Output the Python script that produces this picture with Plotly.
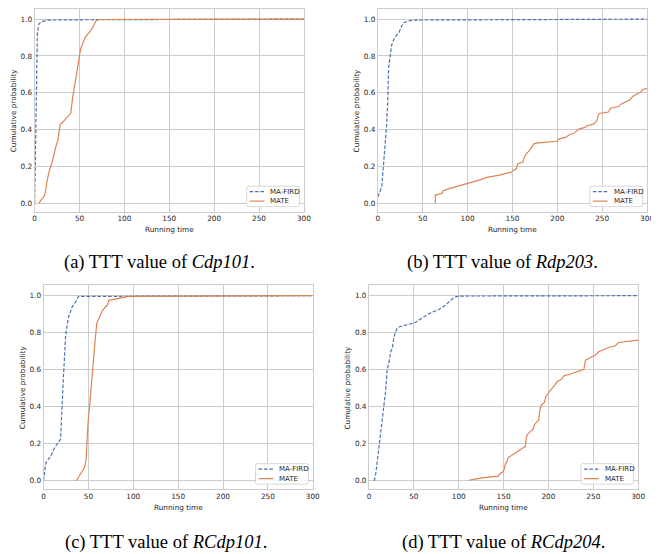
import plotly.graph_objects as go

# The page body has an 8px margin, so the figure is drawn 8px smaller and offset.
OFF = 8
W, H = 659 - OFF, 554 - OFF

# ---------------- data ----------------
series_names = ["MA-FIRD", "MATE"]
x_ticks = [0, 50, 100, 150, 200, 250, 300]
y_ticks = [0.0, 0.2, 0.4, 0.6, 0.8, 1.0]

a_mafird_x = [0, 0.5, 1, 1.5, 2, 2.5, 3, 4, 5, 7, 10, 15, 70, 300]
a_mafird_y = [0, 0.2, 0.45, 0.62, 0.75, 0.85, 0.92, 0.96, 0.975, 0.985, 0.99, 0.995, 0.997, 1.0]
a_mate_x = [4.8, 7.3, 10.3, 12.1, 13.6, 16.5, 19, 21.3, 23.8, 25.7, 27.5, 28.6, 31.2, 34.8, 38.5,
            40.3, 42.2, 44.7, 47, 48.4, 50.2, 51.3, 53.9, 56.8, 59.4, 63, 66, 68.2, 71.5, 300]
a_mate_y = [0, 0.02, 0.036, 0.063, 0.116, 0.18, 0.215, 0.27, 0.31, 0.34, 0.385, 0.43, 0.44, 0.46, 0.48,
            0.49, 0.57, 0.64, 0.70, 0.75, 0.80, 0.84, 0.87, 0.905, 0.92, 0.94, 0.968, 0.99, 0.998, 1.0]

b_mafird_x = [0, 2.6, 4.4, 5.5, 7, 8.4, 9.9, 11, 12, 13.5, 15.4, 18.3, 20.9, 23.8, 26.3, 28.9, 33.7, 41, 300]
b_mafird_y = [0.036, 0.063, 0.09, 0.16, 0.25, 0.36, 0.43, 0.556, 0.735, 0.79, 0.86, 0.896, 0.914, 0.93,
              0.96, 0.98, 0.99, 0.995, 1.0]
b_mate_x = [64, 64, 68.4, 72, 72.8, 79.4, 90.4, 101, 112, 117.8, 119.6, 134, 143.4, 149, 150.7, 154.4,
            156, 161.7, 163.6, 165.4, 169, 171, 173.8, 178.2, 200, 202, 209.3, 212.9, 218.4, 224, 231,
            233, 240.4, 244, 246, 247.7, 256.9, 259.4, 269, 270.8, 280.6, 284.3, 287.2, 293.4, 295.3, 300]
b_mate_y = [0, 0.045, 0.05, 0.057, 0.068, 0.08, 0.095, 0.108, 0.125, 0.134, 0.14, 0.152, 0.165, 0.17,
            0.179, 0.188, 0.215, 0.224, 0.256, 0.269, 0.287, 0.305, 0.323, 0.328, 0.337, 0.35, 0.358,
            0.371, 0.38, 0.403, 0.412, 0.421, 0.43, 0.448, 0.484, 0.489, 0.496, 0.516, 0.527, 0.538,
            0.561, 0.582, 0.591, 0.606, 0.618, 0.624]

c_mafird_x = [0, 1.5, 2.6, 5.1, 8.1, 10.6, 13.2, 16.1, 19, 19.8, 20.9, 22, 23.4, 24.5, 26, 27.8, 29.3,
              31.9, 34.4, 37, 38.8, 300]
c_mafird_y = [0, 0.06, 0.097, 0.115, 0.133, 0.16, 0.186, 0.204, 0.226, 0.312, 0.40, 0.545, 0.67, 0.78,
              0.83, 0.885, 0.903, 0.94, 0.957, 0.975, 0.996, 1.0]
c_mate_x = [36.6, 39.9, 42.5, 45.4, 47.3, 48.4, 49.8, 51.3, 53.5, 55.7, 57.5, 59.3, 60.8, 63.7, 65.6,
            69.2, 71, 72.9, 80.2, 87.5, 94.9, 300]
c_mate_y = [0, 0.025, 0.043, 0.07, 0.106, 0.222, 0.33, 0.40, 0.545, 0.67, 0.76, 0.85, 0.867, 0.894,
            0.92, 0.94, 0.948, 0.975, 0.984, 0.989, 0.996, 1.0]

d_mafird_x = [5.9, 7.7, 9.5, 11.4, 13.9, 16.5, 18.7, 20.2, 22.4, 24.2, 26, 27.9, 29.3, 31.2, 34.1, 41.4,
              50.6, 52.4, 58, 67, 78, 83.6, 89, 94.6, 100, 300]
d_mafird_y = [0, 0.043, 0.115, 0.186, 0.294, 0.40, 0.49, 0.60, 0.643, 0.697, 0.715, 0.778, 0.796, 0.823,
              0.832, 0.84, 0.853, 0.858, 0.876, 0.903, 0.925, 0.943, 0.966, 0.99, 0.998, 1.0]
d_mate_x = [112.2, 125.8, 144, 145.9, 148.9, 150.7, 151.8, 154, 155, 158.8, 162.5, 168, 171.6, 174.2,
            175.3, 176.4, 180, 182.6, 184.4, 187.4, 189.2, 189.9, 191.8, 195.5, 197.2, 199.8, 202.8,
            206.5, 210, 214.5, 217.5, 224.8, 232, 239.5, 241.3, 245, 252.3, 256, 267, 274.3, 278, 300]
d_mate_y = [0.004, 0.016, 0.025, 0.038, 0.047, 0.061, 0.088, 0.106, 0.124, 0.136, 0.15, 0.168, 0.177,
            0.186, 0.23, 0.249, 0.267, 0.276, 0.303, 0.321, 0.33, 0.366, 0.407, 0.423, 0.455, 0.473,
            0.491, 0.513, 0.536, 0.548, 0.568, 0.577, 0.588, 0.602, 0.652, 0.661, 0.679, 0.697, 0.72,
            0.728, 0.747, 0.76]

captions = ["(a) TTT value of <i>Cdp101</i>.", "(b) TTT value of <i>Rdp203</i>.",
            "(c) TTT value of <i>RCdp101</i>.", "(d) TTT value of <i>RCdp204</i>."]
x_title = "Running time"
y_title = "Cumulative probability"

# ---------------- layout geometry (window pixels) ----------------
panels = [
    dict(l=33, r=306, t=8, b=211, ytx=11, cx=160, cy=262),
    dict(l=381, r=654, t=8, b=211, ytx=359, cx=507, cy=262),
    dict(l=42, r=315, t=285, b=489, ytx=20, cx=166, cy=542),
    dict(l=372, r=645, t=285, b=489, ytx=350, cx=508, cy=542),
]
data = [
    (a_mafird_x, a_mafird_y, a_mate_x, a_mate_y),
    (b_mafird_x, b_mafird_y, b_mate_x, b_mate_y),
    (c_mafird_x, c_mafird_y, c_mate_x, c_mate_y),
    (d_mafird_x, d_mafird_y, d_mate_x, d_mate_y),
]


def px(x):
    return min(1.0, max(0.0, (x - OFF) / W))


def py(y):
    return min(1.0, max(0.0, 1 - (y - OFF) / H))


BLUE = "#4C72B0"
ORANGE = "#DD8452"
GRID = "#cccccc"
TXT = "#262626"
FONT = "DejaVu Sans"
DASH = "3.6px,1.8px"

fig = go.Figure()
layout = dict(width=W, height=H, margin=dict(l=0, r=0, t=0, b=0),
              paper_bgcolor="white", plot_bgcolor="white", showlegend=False,
              font=dict(family=FONT, color=TXT, size=7.3))
annotations = []
shapes = []

for i, (p, (mx, my, tx, ty)) in enumerate(zip(panels, data)):
    n = i + 1
    xa = "x" if n == 1 else f"x{n}"
    ya = "y" if n == 1 else f"y{n}"
    fig.add_trace(go.Scatter(x=mx, y=my, mode="lines", name=series_names[0], xaxis=xa, yaxis=ya,
                             line=dict(color=BLUE, width=1.2, dash=DASH)))
    fig.add_trace(go.Scatter(x=tx, y=ty, mode="lines", name=series_names[1], xaxis=xa, yaxis=ya,
                             line=dict(color=ORANGE, width=1.2)))
    axkey = "xaxis" if n == 1 else f"xaxis{n}"
    aykey = "yaxis" if n == 1 else f"yaxis{n}"
    layout[axkey] = dict(domain=[px(p["l"]), px(p["r"])], anchor=ya, range=[0, 300],
                         tickvals=x_ticks, showgrid=True, gridcolor=GRID, gridwidth=1,
                         showline=True, linecolor=GRID, linewidth=1, mirror=True, zeroline=False,
                         ticks="", tickfont=dict(size=7.3, color=TXT, family=FONT))
    layout[aykey] = dict(domain=[py(p["b"]), py(p["t"])], anchor=xa, range=[-0.045, 1.055],
                         tickvals=y_ticks, tickformat=".1f", showgrid=True, gridcolor=GRID, gridwidth=1,
                         showline=True, linecolor=GRID, linewidth=1, mirror=True, zeroline=False,
                         ticks="", tickfont=dict(size=7.3, color=TXT, family=FONT))

    # ---- compact legend box (matplotlib style) ----
    br = p["r"] - 4.5          # box right
    bb = p["b"] - 5            # box bottom
    bl, bt = br - 53.5, bb - 20.5
    rr = 2
    path = (f"M{px(bl + rr)},{py(bt)} L{px(br - rr)},{py(bt)} Q{px(br)},{py(bt)} {px(br)},{py(bt + rr)} "
            f"L{px(br)},{py(bb - rr)} Q{px(br)},{py(bb)} {px(br - rr)},{py(bb)} "
            f"L{px(bl + rr)},{py(bb)} Q{px(bl)},{py(bb)} {px(bl)},{py(bb - rr)} "
            f"L{px(bl)},{py(bt + rr)} Q{px(bl)},{py(bt)} {px(bl + rr)},{py(bt)} Z")
    shapes.append(dict(type="path", xref="paper", yref="paper", path=path,
                       fillcolor="rgba(255,255,255,0.85)", line=dict(color="#d6d6d6", width=1)))
    rows = [bt + 5.5, bt + 15]
    for j, (nm, col, dash) in enumerate([(series_names[0], BLUE, DASH), (series_names[1], ORANGE, "solid")]):
        shapes.append(dict(type="line", xref="paper", yref="paper", x0=px(bl + 3), x1=px(bl + 18),
                           y0=py(rows[j]), y1=py(rows[j]), line=dict(color=col, width=1.2, dash=dash)))
        annotations.append(dict(text=nm, x=px(bl + 22), y=py(rows[j]), xref="paper", yref="paper",
                                showarrow=False, xanchor="left", yanchor="middle",
                                font=dict(size=7, color=TXT, family=FONT)))

    # axis titles
    annotations.append(dict(text=x_title, x=px((p["l"] + p["r"]) / 2), y=py(p["b"] + 18),
                            xref="paper", yref="paper", showarrow=False, xanchor="center",
                            yanchor="middle", font=dict(size=7.3, color=TXT, family=FONT)))
    annotations.append(dict(text=y_title, x=px(p["ytx"]), y=py((p["t"] + p["b"]) / 2),
                            xref="paper", yref="paper", showarrow=False, xanchor="center",
                            yanchor="middle", textangle=-90,
                            font=dict(size=7.3, color=TXT, family=FONT)))
    annotations.append(dict(text=captions[i], x=px(p["cx"]), y=py(p["cy"]),
                            xref="paper", yref="paper", showarrow=False, xanchor="center",
                            yanchor="middle", font=dict(size=18.5, color="black",
                                                        family="Liberation Serif")))

layout["annotations"] = annotations
layout["shapes"] = shapes
fig.update_layout(**layout)
fig.write_html("out.html")
